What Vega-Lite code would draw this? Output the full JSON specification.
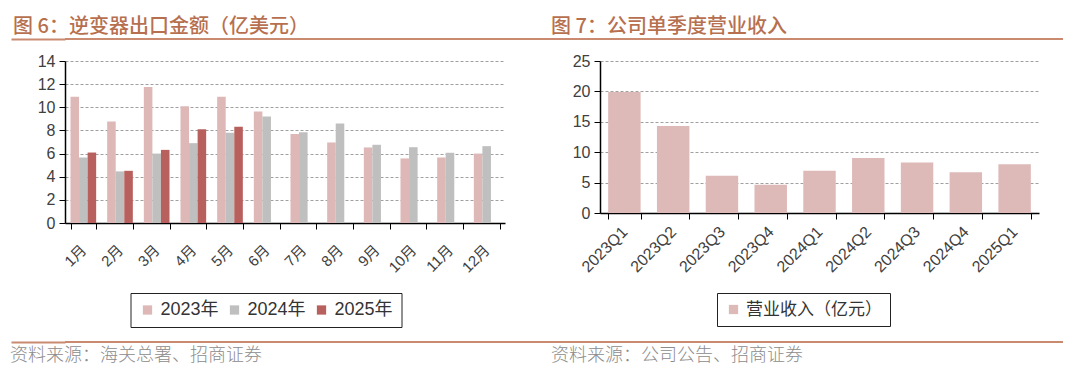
{
  "$schema": "https://vega.github.io/schema/vega-lite/v6.json",
  "padding": {"left": 10, "top": 17, "right": 0, "bottom": 0},
  "background": "white",
  "config": {
    "view": {"stroke": null},
    "font": "Liberation Sans, Noto Sans CJK SC"
  },
  "spacing": 13,
  "align": "none",
  "vconcat": [
    {
      "spacing": 0,
      "hconcat": [
        {
          "width": 486, "height": 2,
          "view": {"fill": "#c98a70", "stroke": null},
          "title": {"text": "图 6：逆变器出口金额（亿美元）", "anchor": "start", "orient": "top", "dx": 3, "offset": 1, "fontSize": 20, "font": "Noto Sans CJK SC", "fontWeight": 500, "color": "#b7704f"},
          "data": {"values": []},
          "mark": "text",
          "encoding": {
            "y": {"datum": 0.5, "type": "quantitative", "scale": {"domain": [0, 1]}, "axis": {"title": null, "values": [0.5], "labels": false, "domain": false, "grid": false, "tickSize": 54, "tickWidth": 2, "tickColor": "#c98a70", "minExtent": 0}}
          }
        },
        {
          "width": 512, "height": 2,
          "view": {"fill": "#c98a70", "stroke": null},
          "title": {"text": "图 7：公司单季度营业收入", "anchor": "start", "orient": "top", "dx": 0, "offset": 1, "fontSize": 20, "font": "Noto Sans CJK SC", "fontWeight": 500, "color": "#b7704f"},
          "data": {"values": []},
          "mark": "text"
        }
      ]
    },
    {
      "spacing": 55,
      "resolve": {"scale": {"color": "independent"}, "legend": {"color": "independent"}},
      "hconcat": [
        {
          "width": 440, "height": 162,
          "data": {"values": [
            {"month": "1月", "year": "2023年", "value": 10.9},
            {"month": "1月", "year": "2024年", "value": 5.66},
            {"month": "1月", "year": "2025年", "value": 6.09},
            {"month": "2月", "year": "2023年", "value": 8.77},
            {"month": "2月", "year": "2024年", "value": 4.46},
            {"month": "2月", "year": "2025年", "value": 4.51},
            {"month": "3月", "year": "2023年", "value": 11.76},
            {"month": "3月", "year": "2024年", "value": 6.0},
            {"month": "3月", "year": "2025年", "value": 6.32},
            {"month": "4月", "year": "2023年", "value": 10.09},
            {"month": "4月", "year": "2024年", "value": 6.9},
            {"month": "4月", "year": "2025年", "value": 8.1},
            {"month": "5月", "year": "2023年", "value": 10.9},
            {"month": "5月", "year": "2024年", "value": 7.79},
            {"month": "5月", "year": "2025年", "value": 8.31},
            {"month": "6月", "year": "2023年", "value": 9.63},
            {"month": "6月", "year": "2024年", "value": 9.2},
            {"month": "7月", "year": "2023年", "value": 7.7},
            {"month": "7月", "year": "2024年", "value": 7.85},
            {"month": "8月", "year": "2023年", "value": 6.96},
            {"month": "8月", "year": "2024年", "value": 8.6},
            {"month": "9月", "year": "2023年", "value": 6.53},
            {"month": "9月", "year": "2024年", "value": 6.76},
            {"month": "10月", "year": "2023年", "value": 5.58},
            {"month": "10月", "year": "2024年", "value": 6.55},
            {"month": "11月", "year": "2023年", "value": 5.66},
            {"month": "11月", "year": "2024年", "value": 6.07},
            {"month": "12月", "year": "2023年", "value": 6.0},
            {"month": "12月", "year": "2024年", "value": 6.64}
          ]},
          "mark": {"type": "bar"},
          "encoding": {
            "x": {
              "field": "month", "type": "nominal",
              "sort": ["1月","2月","3月","4月","5月","6月","7月","8月","9月","10月","11月","12月"],
              "scale": {"paddingInner": 0.3, "paddingOuter": 0.15},
              "axis": {"title": null, "labelAngle": -45, "labelAlign": "right", "labelBaseline": "middle", "labelFontSize": 15, "labelColor": "#404040", "labelPadding": 18, "tickBand": "extent", "tickColor": "#000000", "tickSize": 6, "domainColor": "#000000", "domainWidth": 1.5, "grid": false}
            },
            "xOffset": {"field": "year", "type": "nominal", "scale": {"domain": ["2023年", "2024年", "2025年"]}},
            "y": {
              "field": "value", "type": "quantitative",
              "scale": {"domain": [0, 14], "nice": false},
              "axis": {"title": null, "values": [0,2,4,6,8,10,12,14], "grid": true, "gridDash": [3,2], "gridColor": "#a0a0a0", "domainColor": "#000000", "domainWidth": 1.5, "tickColor": "#000000", "tickSize": 6, "labelFontSize": 16, "labelColor": "#404040", "labelPadding": 4, "minExtent": 53.5}
            },
            "color": {
              "field": "year", "type": "nominal",
              "scale": {"domain": ["2023年", "2024年", "2025年"], "range": ["#ddb8b7", "#bfbfbf", "#b8605d"]},
              "legend": {"title": null, "orient": "none", "legendX": 65.5, "legendY": 232, "direction": "horizontal", "strokeColor": "#222222", "fillColor": "#ffffff", "padding": 8, "columnPadding": 6, "symbolType": "square", "symbolSize": 86, "symbolStrokeWidth": 0, "labelFontSize": 18, "labelColor": "#333333", "labelOffset": 4}
            }
          }
        },
        {
          "width": 439, "height": 152,
          "data": {"values": [
            {"quarter": "2023Q1", "series": "营业收入（亿元）", "value": 19.9},
            {"quarter": "2023Q2", "series": "营业收入（亿元）", "value": 14.3},
            {"quarter": "2023Q3", "series": "营业收入（亿元）", "value": 6.12},
            {"quarter": "2023Q4", "series": "营业收入（亿元）", "value": 4.65},
            {"quarter": "2024Q1", "series": "营业收入（亿元）", "value": 6.93},
            {"quarter": "2024Q2", "series": "营业收入（亿元）", "value": 9.04},
            {"quarter": "2024Q3", "series": "营业收入（亿元）", "value": 8.3},
            {"quarter": "2024Q4", "series": "营业收入（亿元）", "value": 6.7},
            {"quarter": "2025Q1", "series": "营业收入（亿元）", "value": 8.02}
          ]},
          "mark": {"type": "bar"},
          "encoding": {
            "x": {
              "field": "quarter", "type": "nominal", "sort": null,
              "scale": {"paddingInner": 0.335, "paddingOuter": 0.1675},
              "axis": {"title": null, "labelAngle": -45, "labelAlign": "right", "labelBaseline": "middle", "labelFontSize": 16, "labelColor": "#404040", "labelPadding": 10, "tickBand": "extent", "tickColor": "#000000", "tickSize": 6, "domainColor": "#000000", "domainWidth": 1.5, "grid": false}
            },
            "y": {
              "field": "value", "type": "quantitative",
              "scale": {"domain": [0, 25], "nice": false},
              "axis": {"title": null, "values": [0,5,10,15,20,25], "grid": true, "gridDash": [3,2], "gridColor": "#a0a0a0", "domainColor": "#000000", "domainWidth": 1.5, "tickColor": "#000000", "tickSize": 6, "labelFontSize": 16, "labelColor": "#404040", "labelPadding": 4, "minExtent": 40}
            },
            "color": {
              "field": "series", "type": "nominal",
              "scale": {"range": ["#ddb9b8"]},
              "legend": {"title": null, "orient": "none", "legendX": 117, "legendY": 232, "direction": "horizontal", "strokeColor": "#222222", "fillColor": "#ffffff", "padding": 8, "symbolType": "square", "symbolSize": 86, "symbolStrokeWidth": 0, "labelFontSize": 17, "labelColor": "#333333", "labelOffset": 4}
            }
          }
        }
      ]
    },
    {
      "spacing": 0,
      "hconcat": [
        {
          "width": 486, "height": 2,
          "view": {"fill": "#c98a70", "stroke": null},
          "title": {"text": "资料来源：海关总署、招商证券", "anchor": "start", "orient": "bottom", "dx": 0, "offset": 4, "fontSize": 18, "font": "Noto Sans CJK SC", "fontWeight": 300, "color": "#8c8c8c"},
          "data": {"values": []},
          "mark": "text",
          "encoding": {
            "y": {"datum": 0.5, "type": "quantitative", "scale": {"domain": [0, 1]}, "axis": {"title": null, "values": [0.5], "labels": false, "domain": false, "grid": false, "tickSize": 54, "tickWidth": 2, "tickColor": "#c98a70", "minExtent": 0}}
          }
        },
        {
          "width": 512, "height": 2,
          "view": {"fill": "#c98a70", "stroke": null},
          "title": {"text": "资料来源：公司公告、招商证券", "anchor": "start", "orient": "bottom", "dx": 0, "offset": 4, "fontSize": 18, "font": "Noto Sans CJK SC", "fontWeight": 300, "color": "#8c8c8c"},
          "data": {"values": []},
          "mark": "text"
        }
      ]
    }
  ]
}
